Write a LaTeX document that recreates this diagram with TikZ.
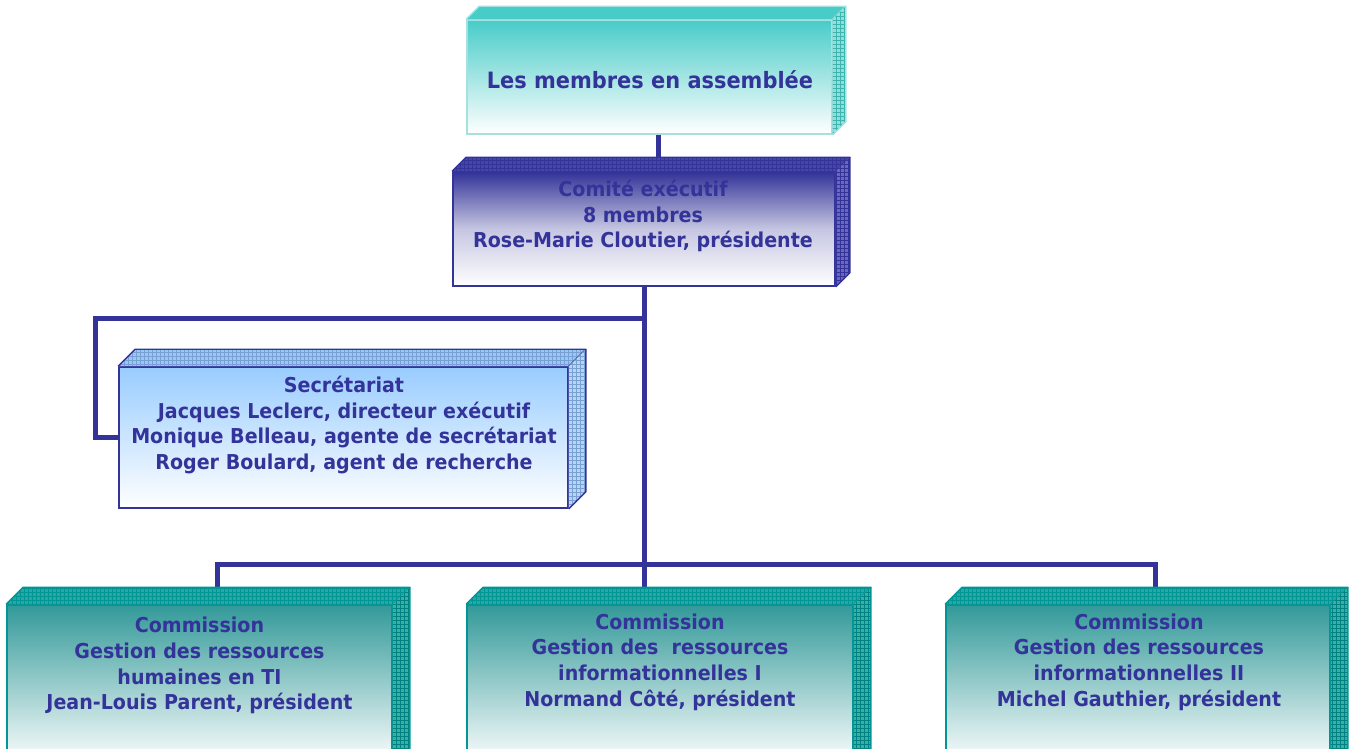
\documentclass[tikz,border=0pt]{standalone}
\usepackage{fontspec}
\setmainfont{DejaVu Sans}[FakeStretch=0.93]
\usetikzlibrary{patterns,backgrounds,calc}
\pgfdeclarepatternformonly{gridfour}{\pgfqpoint{-1pt}{-1pt}}{\pgfqpoint{5pt}{5pt}}{\pgfqpoint{4pt}{4pt}}{%
  \pgfsetlinewidth{0.6pt}%
  \pgfpathmoveto{\pgfqpoint{0pt}{0pt}}\pgfpathlineto{\pgfqpoint{0pt}{4.1pt}}%
  \pgfpathmoveto{\pgfqpoint{0pt}{0pt}}\pgfpathlineto{\pgfqpoint{4.1pt}{0pt}}%
  \pgfusepath{stroke}}
\definecolor{navy}{RGB}{51,51,153}
\definecolor{navyMid}{RGB}{198,198,226}
\definecolor{tealA}{RGB}{72,204,200}
\definecolor{tealAb}{RGB}{165,225,225}
\definecolor{tealAside}{RGB}{150,220,215}
\definecolor{tealAgrid}{RGB}{60,180,175}
\definecolor{navyTop}{RGB}{70,70,165}
\definecolor{navySide}{RGB}{105,105,185}
\definecolor{blueB}{RGB}{153,204,255}
\definecolor{blueBtop}{RGB}{150,200,250}
\definecolor{blueBside}{RGB}{185,212,240}
\definecolor{blueBgrid}{RGB}{120,160,210}
\definecolor{tealC}{RGB}{51,153,153}
\definecolor{tealCb}{RGB}{0,150,150}
\definecolor{tealCtop}{RGB}{45,165,160}
\definecolor{tealCside}{RGB}{60,175,165}
\definecolor{tealCgrid}{RGB}{0,130,130}
\tikzset{
  front/.style={draw, line width=1.6, minimum width=#1, inner sep=0pt, bottom color=white},
  txt/.style={text=navy, align=center, font=\bfseries\fontsize{20.5}{25.7}\selectfont, inner sep=0pt},
  conn/.style={draw=navy, line width=5, line join=miter},
}
% #1 node, #2 depth, #3 top fill, #4 side fill, #5 grid colour, #6 border, #7 top grid colour
\newcommand\boxfaces[7]{%
  \fill[#3] (#1.north west) -- ++(#2,-#2) -- ([shift={(#2,-#2)}]#1.north east) -- (#1.north east) -- cycle;
  \fill[pattern=gridfour, pattern color=#7] (#1.north west) -- ++(#2,-#2) -- ([shift={(#2,-#2)}]#1.north east) -- (#1.north east) -- cycle;
  \draw[#6, line width=1.4, line join=round] (#1.north west) -- ++(#2,-#2) -- ([shift={(#2,-#2)}]#1.north east) -- (#1.north east);
  \fill[#4] (#1.north east) -- ++(#2,-#2) -- ([shift={(#2,-#2)}]#1.south east) -- (#1.south east) -- cycle;
  \fill[pattern=gridfour, pattern color=#5] (#1.north east) -- ++(#2,-#2) -- ([shift={(#2,-#2)}]#1.south east) -- (#1.south east) -- cycle;
  \draw[#6, line width=1.4, line join=round] ([shift={(#2,-#2)}]#1.north east) -- ([shift={(#2,-#2)}]#1.south east) -- (#1.south east);
}
\begin{document}
\begin{tikzpicture}[x=1pt,y=-1pt]
\useasboundingbox (0,0) rectangle (1357,748);

% top box
\node[front=365pt, minimum height=114pt, draw=tealAb, top color=tealA] (top) at (649.5,77) {};
\boxfaces{top}{13}{tealA}{tealAside}{tealAgrid}{tealAb}{tealA}
\node[txt, font=\bfseries\fontsize{22.5}{28}\selectfont] (ttop) at (650,80) {Les membres en assemblée};

% comite
\node[front=382pt, minimum height=114pt, draw=navy, top color=navy, bottom color=white, middle color=navyMid] (comite) at (644,229) {};
\boxfaces{comite}{14}{navyTop}{navySide}{navy}{navy}{navy}
\node[txt] (tcomite) at (643,216) {Comité exécutif\\8 membres\\Rose-Marie Cloutier, présidente};

% secretariat
\node[front=449pt, minimum height=141pt, draw=navy, top color=blueB] (sec) at (343.5,437.5) {};
\boxfaces{sec}{17}{blueBtop}{blueBside}{blueBgrid}{navy}{blueBgrid}
\node[txt] (tsec) at (344,425) {Secrétariat\\Jacques Leclerc, directeur exécutif\\Monique Belleau, agente de secrétariat\\Roger Boulard, agent de recherche};

% commissions
\node[front=385pt, minimum height=160pt, draw=tealCb, top color=tealC] (c1) at (199.5,685) {};
\boxfaces{c1}{17}{tealCtop}{tealCside}{tealCgrid}{tealCb}{tealCb}
\node[txt] (tc1) at (199.5,665.5) {Commission\\Gestion des ressources\\humaines en TI\\Jean-Louis Parent, président};

\node[front=386pt, minimum height=160pt, draw=tealCb, top color=tealC] (c2) at (660,685) {};
\boxfaces{c2}{17}{tealCtop}{tealCside}{tealCgrid}{tealCb}{tealCb}
\node[txt] (tc2) at (660,662) {Commission\\Gestion des\ \ ressources\\informationnelles I\\Normand Côté, président};

\node[front=384pt, minimum height=160pt, draw=tealCb, top color=tealC] (c3) at (1138,685) {};
\boxfaces{c3}{17}{tealCtop}{tealCside}{tealCgrid}{tealCb}{tealCb}
\node[txt] (tc3) at (1139,662) {Commission\\Gestion des ressources\\informationnelles II\\Michel Gauthier, président};

\coordinate (j1) at (644,318);
\coordinate (k1) at (95.5,318);
\coordinate (bl) at (217,564);
\coordinate (br) at (1155,564);

\begin{scope}[on background layer]
  \draw[conn] ([xshift=8.5pt]top.south) -- ([xshift=8.5pt]top.south |- comite.north);
  \draw[conn] (comite.south) -- (comite.south |- c2.north);
  \draw[conn] (j1) -- (k1) |- (sec.west);
  \draw[conn] (c1.north -| bl) -- (bl) -- (br) -- (c3.north -| br);
\end{scope}
\end{tikzpicture}
\end{document}
